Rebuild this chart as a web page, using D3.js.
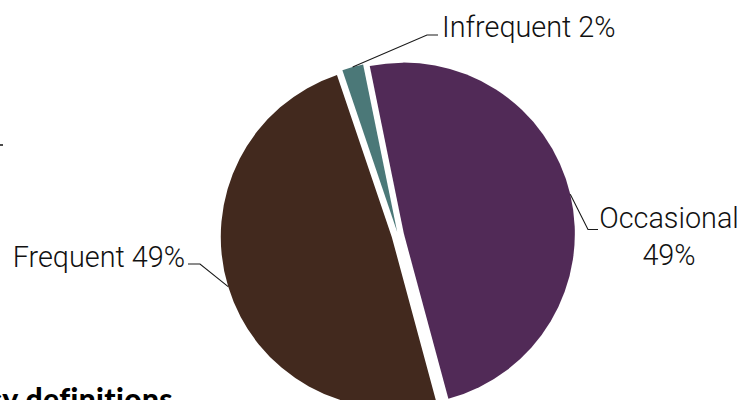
<!DOCTYPE html>
<html>
<head>
<meta charset="utf-8">
<script src="https://cdn.jsdelivr.net/npm/d3@7/dist/d3.min.js"></script>
<style>
  html, body { margin: 0; padding: 0; background: #ffffff; }
  svg { display: block; }
</style>
</head>
<body>
<svg id="chart" width="741" height="400"></svg>
<script>
// ---- data ----
const categories = ["Occasional", "Frequent", "Infrequent"];
const values = [49, 49, 2];
const percentLabels = ["49%", "49%", "2%"];
const colors = ["#512a57", "#42291e", "#4b7878"];

// ---- layout ----
const W = 741, H = 400;
const cx = 398, cy = 235, R = 171;
const startDeg = -11.5;
const explode = { Occasional: 6, Frequent: 6.5, Infrequent: 3 };
// label anchor layout: elbow, end of leader, text position
const labelLayout = {
  Infrequent: { elbow: [427, 35], end: [438, 35], text: [442, 37], anchor: "start", lines: (c, p) => [c + " " + p] },
  Occasional: { elbow: [588, 229.5], end: [598, 229.5], text: [669, 228], anchor: "middle", lines: (c, p) => [c, p] },
  Frequent:   { elbow: [200, 264], end: [188, 264], text: [185, 267], anchor: "end", lines: (c, p) => [c + " " + p] }
};

const svg = d3.select("#chart");
const data = categories.map((c, i) => ({ cat: c, value: values[i], pct: percentLabels[i], color: colors[i] }));

const a0 = startDeg * Math.PI / 180;
const pie = d3.pie().sort(null).value(d => d.value).startAngle(a0).endAngle(a0 + 2 * Math.PI);
const arc = d3.arc().innerRadius(0).outerRadius(R);
const arcs = pie(data);

const g = svg.append("g").attr("transform", `translate(${cx},${cy})`);

arcs.forEach(a => {
  const mid = (a.startAngle + a.endAngle) / 2;
  const d = explode[a.data.cat];
  a.ox = d * Math.sin(mid);
  a.oy = -d * Math.cos(mid);
  a.mid = mid;
});

g.selectAll("path.slice")
  .data(arcs)
  .join("path")
  .attr("class", "slice")
  .attr("transform", a => `translate(${a.ox},${a.oy})`)
  .attr("d", arc)
  .attr("fill", a => a.data.color);

// leader lines and labels
const leaders = svg.append("g");
arcs.forEach(a => {
  const L = labelLayout[a.data.cat];
  const sx = cx + a.ox + R * Math.sin(a.mid);
  const sy = cy + a.oy - R * Math.cos(a.mid);
  leaders.append("polyline")
    .attr("points", [[sx, sy], L.elbow, L.end].map(p => p.join(",")).join(" "))
    .attr("fill", "none")
    .attr("stroke", "#1a1a1a")
    .attr("stroke-width", 1.1);
  const t = svg.append("text")
    .attr("x", L.text[0])
    .attr("y", L.text[1])
    .attr("text-anchor", L.anchor)
    .attr("font-family", "Roboto, 'Open Sans', sans-serif")
    .attr("font-weight", 300)
    .attr("font-size", 28.8)
    .attr("fill", "#111");
  L.lines(a.data.cat, a.data.pct).forEach((ln, i) => {
    t.append("tspan").attr("x", L.text[0]).attr("dy", i === 0 ? 0 : 37).text(ln);
  });
});

// cut-off fragments at the edges of the crop
svg.append("line").attr("x1", 0).attr("x2", 3).attr("y1", 145).attr("y2", 145)
  .attr("stroke", "#111").attr("stroke-width", 1.5);
svg.append("text")
  .attr("x", 173).attr("y", 410)
  .attr("text-anchor", "end")
  .attr("font-family", "Lato, 'Open Sans', sans-serif")
  .attr("font-weight", 900)
  .attr("font-size", 30)
  .attr("letter-spacing", 0.4)
  .attr("fill", "#000")
  .text("Frequency definitions");
</script>
</body>
</html>
